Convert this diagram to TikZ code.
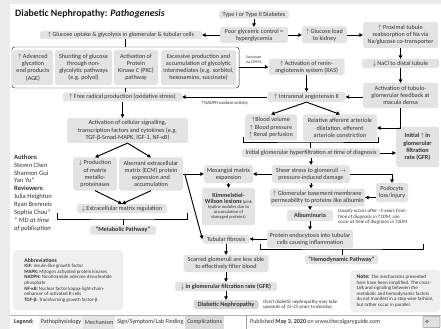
\documentclass[tikz,border=0pt]{standalone}
\usepackage{fontspec}
\setmainfont{Carlito}
\usetikzlibrary{arrows.meta,calc}
\definecolor{boxgray}{HTML}{E3E3E3}
\definecolor{notegray}{HTML}{EFEFEF}
\definecolor{framegray}{HTML}{EBEBEB}
\definecolor{inkgray}{HTML}{333333}
\newcommand\bxfont{\fontsize{8.8}{10.2}\selectfont}
\newcommand\lblfont{\fontsize{5.6}{6.4}\selectfont}
\newcommand\notefont{\fontsize{7}{7.9}\selectfont}
\newcommand\kwfont{\fontsize{6.4}{7.2}\selectfont}
\newcommand\legfont{\fontsize{8.6}{10}\selectfont}
\tikzset{
  wh/.style 2 args={minimum width=#1*0.5mm,minimum height=#2*0.5mm},
  box/.style={fill=boxgray,rounded corners=2.5pt,align=center,inner sep=0.8pt,text=inkgray,font=\bxfont},
  boldbox/.style={box,font=\bxfont\bfseries},
  link/.style={->,line width=1.35pt},
  bracket/.style={line width=0.7pt},
  side/.style={anchor=west,align=left,inner sep=0pt,text=inkgray,font=\notefont\itshape},
  legitem/.style={anchor=west,inner xsep=2.5pt,minimum height=6.5mm,text=inkgray,font=\legfont}
}

\begin{document}
\begin{tikzpicture}[x=0.5mm,y=-0.5mm,>={Triangle[length=5pt,width=5pt]}]
  \useasboundingbox (0,0) rectangle (441,329);
  \fill[framegray] (0,0) rectangle (441,329);
  \fill[white] (10,4) rectangle (441,329);

  % title
  \node[anchor=west,inner sep=0pt,text=black!90,font=\fontsize{14}{16}\selectfont\bfseries] (title) at (15,14) {Diabetic Nephropathy: \textit{Pathogenesis}};

  % top row
  \node[box,wh={70}{8}] (dm) at (254,14.5) {Type I or Type II Diabetes};
  \node[box,wh={68}{16}] (poor) at (254,35) {Poor glycemic control =\\hyperglycemia};
  \node[box,wh={162}{8}] (uptake) at (121,35) {$\uparrow$ Glucose uptake \& glycolysis in glomerular \& tubular cells};
  \node[box,wh={45}{17}] (load) at (324.5,35) {$\uparrow$ Glucose load\\to kidney};
  \node[box,wh={75}{26}] (prox) at (400.5,35) {$\uparrow$ Proximal tubule\\reabsorption of Na via\\Na/glucose co-transporter};
  \node[box,wh={77}{9}] (nacl) at (400.5,63.5) {$\downarrow$ NaCl to distal tubule};
  \node[box,wh={75}{25}] (tgf) at (400.5,95.5) {Activation of tubulo-\\glomerular feedback at\\macula densa};
  \node[box,wh={76}{16}] (ras) at (306.5,67) {$\uparrow$ Activation of renin-\\angiotensin system (RAS)};
  \node[box,wh={78}{10}] (angii) at (306.5,97) {$\uparrow$ Intrarenal angiotensin II};

  % metabolic side
  \node[draw=inkgray,line width=0.7pt,rounded corners=4pt,wh={227}{41}] (glyco) at (125.5,67.5) {};
  \node[box,wh={40}{35}] (age) at (33,67.5) {$\uparrow$ Advanced\\glycation\\end products\\(AGE)};
  \node[box,wh={57}{35}] (shunt) at (83.5,67.5) {Shunting of glucose\\through non-\\glycolytic pathways\\(e.g. polyol)};
  \node[box,wh={44}{35}] (pkc) at (136,67.5) {Activation of\\Protein\\Kinase C (PKC)\\pathway};
  \node[box,wh={75}{35}] (inter) at (198.5,67.5) {Excessive production and\\accumulation of glycolytic\\intermediates (e.g. sorbitol,\\hexosamine, succinate)};
  \node[box,wh={119}{9}] (radical) at (122.5,97) {$\uparrow$ Free radical production (oxidative stress)};
  \node[box,wh={121}{25}] (signal) at (127.5,130.5) {Activation of cellular signalling,\\transcription factors and cytokines (e.g.\\TGF-β-Smad-MAPK, IGF-1, NF-κB)};
  \node[box,wh={44}{33}] (mmp) at (95,174) {$\downarrow$ Production\\of matrix\\metallo-\\proteinases};
  \node[box,wh={64}{33}] (ecm) at (151,174) {Aberrant extracellular\\matrix (ECM) protein\\expression and\\accumulation};
  \node[box,wh={90}{9}] (ecmreg) at (122,208.5) {$\downarrow$ Extracellular matrix regulation};
  \node[boldbox,wh={66}{9}] (metab) at (123,230) {“Metabolic Pathway”};

  % hemodynamic side
  \node[box,wh={52}{26}] (blood) at (271,127.5) {$\uparrow$Blood volume\\$\uparrow$ Blood pressure\\$\uparrow$ Renal perfusion};
  \node[box,wh={74}{27}] (relat) at (340,128) {Relative afferent arteriole\\dilatation, efferent\\arteriole constriction};
  \node[box,wh={138}{9}] (hyper) at (311,153) {Initial glomerular hyperfiltration at time of diagnosis};
  \node[boldbox,wh={43}{40}] (gfrup) at (417.5,147) {Initial $\uparrow$ in\\glomerular\\filtration\\rate (GFR)};
  \node[box,wh={78}{18}] (sheer) at (311,174) {Sheer stress to glomeruli $\rightarrow$\\pressure-induced damage};
  \node[box,wh={49}{18}] (mesang) at (228.5,174) {Mesangial matrix\\expansion};
  \node[box,wh={32}{19}] (podo) at (392,192.5) {Podocyte\\loss/injury};
  \node[box,wh={95}{18}] (gbm) at (317.5,197.5) {$\uparrow$ Glomerular basement membrane\\permeability to proteins like albumin};
  \node[boldbox,wh={46}{11}] (alb) at (310,215.5) {Albuminuria};
  \node[side] (albnote) at (338,217) {Usually occurs after \textasciitilde5 years from\\time of diagnosis in T1DM; can\\occur at time of diagnosis in T2DM};
  \node[box,wh={86}{18}] (endo) at (310,239) {Protein endocytosis into tubular\\cells causing inflammation};
  \node[box,wh={47}{9}] (fibro) at (226,239) {Tubular fibrosis};
  \node[box,wh={53}{37},font=\kwfont] (kw) at (228.5,206.5) {{\bxfont\bfseries Kimmelstiel-}\\[1pt]{\bxfont\bfseries Wilson lesions} (pink\\hyaline nodules due to\\accumulation of\\damaged proteins)};
  \node[boldbox,wh={73}{9}] (hemo) at (341.5,259.5) {“Hemodynamic Pathway”};
  \node[box,wh={85}{17}] (scar) at (226,263.5) {Scarred glomeruli are less able\\to effectively filter blood};
  \node[boldbox,wh={102}{9}] (gfrdown) at (226,286.5) {$\downarrow$ in glomerular filtration rate (GFR)};
  \node[boldbox,wh={65}{9},fill=black!16] (dn) at (226,304.5) {Diabetic Nephropathy};
  \node[side] (dnnote) at (263,304.5) {Overt diabetic nephropathy may take\\upwards of 15-25 years to develop};

  % side panels
  \node[anchor=north west,align=left,inner sep=0pt,text=inkgray,font=\fontsize{9.4}{11.2}\selectfont] (authors) at (14,154.5) {\textbf{Authors:}\\Steven Chen\\Shannon Gui\\Yan Yu*\\\textbf{Reviewers:}\\Julia Heighton\\Ryan Brenneis\\Sophia Chou*\\\textit{* MD at time}\\\textit{of publication}};
  \node[fill=notegray,rounded corners=6pt,anchor=north west,align=left,wh={110}{60},inner xsep=3pt,text=inkgray,font=\notefont] (abbr) at (13,250) {{\fontsize{8}{9}\selectfont\bfseries Abbreviations}\\\textbf{IGF:} Insulin-like growth factor\\\textbf{MAPK:} Mitogen activated protein kinases\\\textbf{NADPH:} Nicotinamide adenine dinucleotide\\phosphate\\\textbf{NF-κB:} Nuclear factor kappa-light-chain-\\enhancer of activated B cells\\\textbf{TGF-β:} Transforming growth factor-β};
  \node[fill=notegray,rounded corners=6pt,anchor=north west,align=left,wh={90}{42},inner xsep=3pt,text=inkgray,font=\notefont] (note) at (350,270) {{\fontsize{8}{9}\selectfont\bfseries Note:} The mechanisms presented\\here have been simplified. The cross-\\talk and signaling between the\\metabolic and hemodynamic factors\\do not manifest in a step-wise fashion,\\but rather occur in parallel.};

  % connectors, top and metabolic
  \draw[link] (dm) -- (poor);
  \draw[link] (poor) -- (uptake);
  \draw[link] (poor) -- (load);
  \draw[link] (load) -- (prox);
  \draw[link] (prox) -- (nacl);
  \draw[link] (nacl) -- (tgf);
  \draw[link] (tgf.west |- angii.east) -- (angii.east);
  \draw[link] (ras) -- (angii);
  \draw[link] (glyco.east |- ras.west) -- (ras.west) node[midway,above=1pt,align=center,text=inkgray,font=\lblfont] {Succinate\\via GPR91};
  \draw[link] (angii) -- (radical) node[midway,below=1.5pt,text=inkgray,font=\fontsize{6.6}{7.5}\selectfont] {$\uparrow$NADPH oxidase activity};
  \draw[bracket] (uptake.south -| glyco.north) -- (glyco.north);
  \draw[bracket] (glyco.south) -- (glyco.south |- radical.north);
  \draw[link] (radical.south) -- (radical.south |- signal.north);
  \draw[link] (signal.south) -- (mmp.north);
  \draw[link] (signal.south) -- (ecm.north);
  \draw[link] (mmp.south) -- (ecmreg.north);
  \draw[link] (ecm.south) -- (ecmreg.north);
  \draw[link] (ecm) -- (mesang);
  \coordinate (ecmfork) at ($(ecm.east)!0.08!(mesang.west)$);
  \draw[link] (ecmfork) -- (fibro.west);
  \coordinate (mbl) at (57,213);
  \coordinate (mbr) at (187,213);
  \coordinate (mbm) at (123,219);
  \draw[bracket] (mbl) |- (mbm) -| (mbr);
  \draw[bracket] (mbm) -- (metab);

  % connectors, hemodynamic
  \draw[link] (angii.south) -- (blood.north);
  \draw[link] (angii.south) -- (relat.north);
  \draw[link] (tgf.south) |- (relat.east);
  \coordinate (hbl) at (243,137);
  \coordinate (hbr) at (378,137);
  \coordinate (hbm) at (310,142);
  \draw[bracket] (hbl) |- (hbm) -| (hbr);
  \draw[bracket] (hbm) -- (hbm |- hyper.north);
  \draw[link] (hyper.east) -- (hyper.east -| gfrup.west);
  \draw[link] (hyper) -- (sheer);
  \draw[link] (sheer) -- (mesang);
  \draw[link] (sheer.east) -| (podo.north);
  \draw[link] (sheer.south) -- (sheer.south |- gbm.north);
  \draw[link] (podo.west |- gbm.east) -- (gbm.east);
  \draw[link] (gbm.south -| alb.north) -- (alb.north);
  \draw[link] (alb) -- (endo);
  \draw[link] (endo) -- (fibro);
  \draw[link] (mesang) -- (kw);
  \draw[link] (fibro) -- (scar);
  \draw[link] (scar) -- (gfrdown);
  \draw[link] (gfrdown) -- (dn);
  \coordinate (hml) at (260,244);
  \coordinate (hmr) at (423,244);
  \coordinate (hmm) at (342,249);
  \draw[bracket] (hml) |- (hmm) -| (hmr);
  \draw[bracket] (hmm) -- (hmm |- hemo.north);

  % legend
  \draw[black!30,line width=0.5pt] (10,315) -- (441,315);
  \node[anchor=west,inner sep=0pt,text=inkgray,font=\legfont\bfseries] (legend) at (14,322) {Legend:};
  \node[legitem,fill=black!6] (leg1) at (39,322) {Pathophysiology};
  \node[legitem,fill=black!10] (leg2) at (leg1.east) {Mechanism};
  \node[legitem,fill=black!4] (leg3) at (leg2.east) {Sign/Symptom/Lab Finding};
  \node[legitem,fill=black!14] (leg4) at (leg3.east) {Complications};
  \draw[black!40,line width=0.6pt] (246,315) -- (246,329);
  \node[anchor=west,inner sep=0pt,text=inkgray,font=\legfont] (pub) at (250,322) {Published \textbf{May 3, 2020} on www.thecalgaryguide.com};
  \node[draw=black!70,fill=black!12,rounded corners=1pt,minimum width=8.5mm,minimum height=5.5mm,inner sep=0pt] (ccbadge) at (431.5,322) {};
  \node[draw=black!80,fill=white,circle,inner sep=0.3pt,font=\fontsize{3.5}{3.5}\selectfont\bfseries] (cclogo) at (427,321.5) {cc};
\end{tikzpicture}
\end{document}
